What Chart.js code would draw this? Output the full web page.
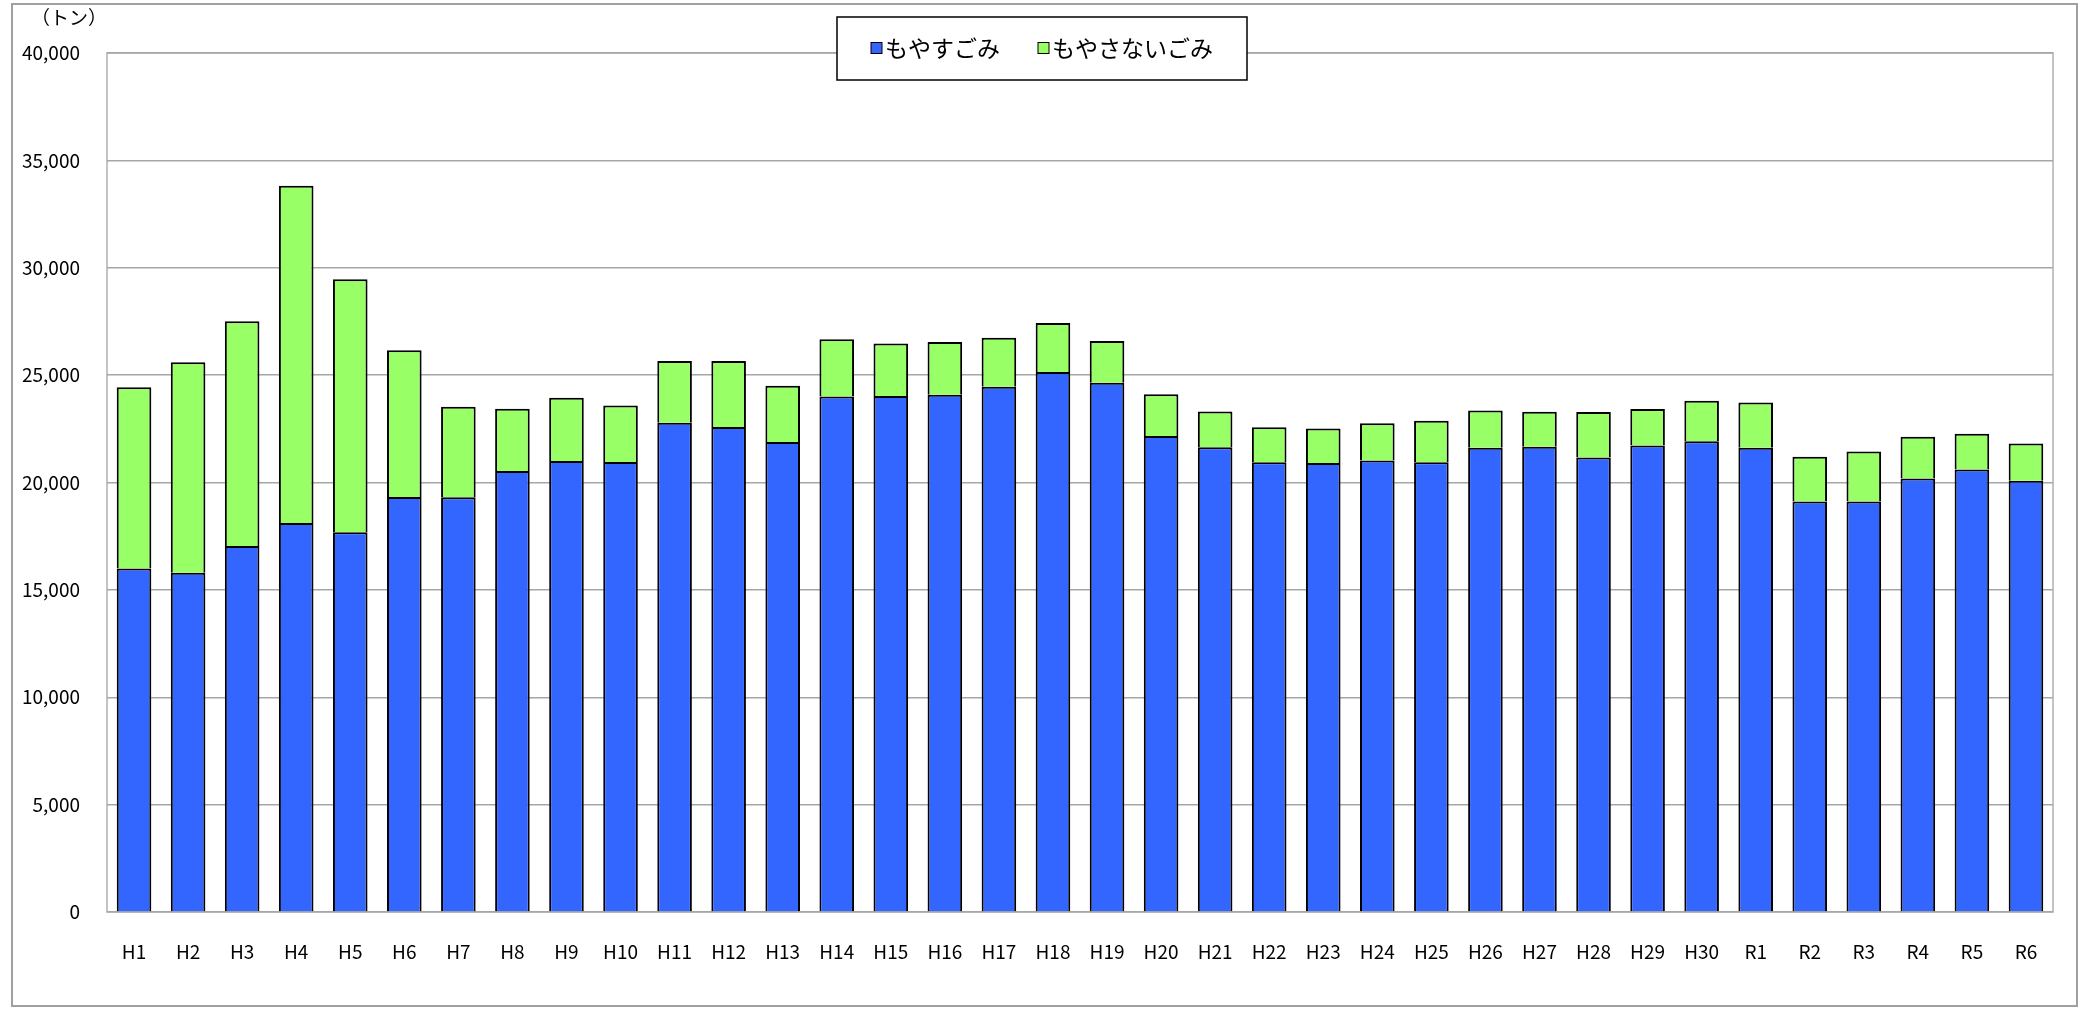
<!DOCTYPE html>
<html lang="ja">
<head>
    <meta charset="UTF-8">
    <title>ごみ排出量の推移</title>
    <script src="https://cdn.jsdelivr.net/npm/chart.js"></script>
    <style>
        html, body { margin: 0; padding: 0; background: #fff; }
        #wrap { width: 2083px; height: 1009px; }
    </style>
</head>
<body>
    <div id="wrap"><canvas id="gomiChart"></canvas></div>

    <script>
        // 年度
        const categories = [
            'H1', 'H2', 'H3', 'H4', 'H5', 'H6', 'H7', 'H8', 'H9', 'H10',
            'H11', 'H12', 'H13', 'H14', 'H15', 'H16', 'H17', 'H18', 'H19', 'H20',
            'H21', 'H22', 'H23', 'H24', 'H25', 'H26', 'H27', 'H28', 'H29', 'H30',
            'R1', 'R2', 'R3', 'R4', 'R5', 'R6'
        ];
        // もやすごみ (トン)
        const burnable = [
            16000, 15800, 17040, 18110, 17680, 19320, 19310, 20540, 21000, 20950,
            22780, 22580, 21890, 24010, 24030, 24090, 24460, 25150, 24650, 22170,
            21640, 20940, 20910, 21030, 20940, 21620, 21670, 21160, 21720, 21920,
            21620, 19110, 19120, 20190, 20600, 20080
        ];
        // もやさないごみ (トン)
        const nonBurnable = [
            8430, 9800, 10470, 15710, 11780, 6840, 4220, 2900, 2950, 2640,
            2880, 3080, 2620, 2660, 2440, 2450, 2280, 2280, 1940, 1940,
            1670, 1630, 1600, 1730, 1940, 1730, 1630, 2120, 1700, 1890,
            2100, 2090, 2320, 1940, 1670, 1740
        ];
        const seriesNames = ['もやすごみ', 'もやさないごみ'];
        const seriesColors = ['#3366ff', '#99ff66'];
        const unitLabel = '（トン）';
        const yMax = 40000;
        const yStep = 5000;

        const FONT = '"Noto Sans CJK JP", "Noto Sans", sans-serif';

        // 枠・単位・凡例を描く
        const framePlugin = {
            id: 'frame',
            beforeDraw(chart) {
                const { ctx, chartArea: a } = chart;
                ctx.save();
                ctx.fillStyle = '#fff';
                ctx.fillRect(0, 0, chart.width, chart.height);
                ctx.strokeStyle = '#a0a0a0';
                ctx.lineWidth = 2;
                ctx.strokeRect(12, 4, chart.width - 18, chart.height - 7);
                ctx.lineWidth = 1.5;
                ctx.strokeStyle = '#b0b0b0';
                ctx.strokeRect(a.left, a.top, a.width, a.height);
                ctx.restore();
            },
            afterDraw(chart) {
                const ctx = chart.ctx;
                ctx.save();
                // 単位
                ctx.font = '19px ' + FONT;
                ctx.fillStyle = '#000';
                ctx.textBaseline = 'middle';
                ctx.textAlign = 'left';
                ctx.fillText(unitLabel, 31, 18);

                // 凡例
                ctx.font = '23px ' + FONT;
                const box = 11, gapText = 3, gapItem = 38, pad = 34;
                const widths = seriesNames.map(n => box + gapText + ctx.measureText(n).width);
                const inner = widths.reduce((s, w) => s + w, 0) + gapItem * (widths.length - 1);
                const w = inner + pad * 2;
                const left = Math.round(chart.width / 2 - w / 2);
                const top = 17, h = 63;
                ctx.fillStyle = '#fff';
                ctx.fillRect(left, top, w, h);
                ctx.strokeStyle = '#000';
                ctx.lineWidth = 1.5;
                ctx.strokeRect(left, top, w, h);
                let x = left + pad;
                const cy = top + h / 2;
                seriesNames.forEach((name, i) => {
                    ctx.fillStyle = seriesColors[i];
                    ctx.fillRect(x, cy - 6, box, box);
                    ctx.lineWidth = 1;
                    ctx.strokeStyle = '#000';
                    ctx.strokeRect(x, cy - 6, box, box);
                    ctx.fillStyle = '#000';
                    ctx.fillText(name, x + box + gapText, cy);
                    x += widths[i] + gapItem;
                });
                ctx.restore();
            }
        };

        const ctx = document.getElementById('gomiChart').getContext('2d');
        new Chart(ctx, {
            type: 'bar',
            data: {
                labels: categories,
                datasets: [
                    {
                        label: seriesNames[0],
                        data: burnable,
                        backgroundColor: seriesColors[0],
                        borderColor: '#000',
                        borderWidth: 2
                    },
                    {
                        label: seriesNames[1],
                        data: nonBurnable,
                        backgroundColor: seriesColors[1],
                        borderColor: '#000',
                        borderWidth: 2
                    }
                ]
            },
            options: {
                responsive: true,
                maintainAspectRatio: false,
                animation: false,
                layout: { padding: { top: 53, right: 30, left: 0, bottom: 0 } },
                categoryPercentage: 1,
                barPercentage: 0.64,
                plugins: {
                    legend: { display: false },
                    tooltip: { enabled: false }
                },
                scales: {
                    x: {
                        stacked: true,
                        grid: { display: false },
                        border: { display: false },
                        ticks: {
                            color: '#000',
                            padding: 20,
                            maxRotation: 0,
                            autoSkip: false,
                            font: { family: FONT, size: 19 }
                        },
                        afterFit(s) { s.height = 97; }
                    },
                    y: {
                        stacked: true,
                        min: 0,
                        max: yMax,
                        grid: { color: '#a6a6a6', lineWidth: 1.5, drawTicks: false },
                        border: { display: false },
                        ticks: {
                            stepSize: yStep,
                            color: '#000',
                            padding: 27,
                            font: { family: FONT, size: 19 },
                            callback: v => v.toLocaleString('en-US')
                        },
                        afterFit(s) { s.width = 107; }
                    }
                }
            },
            plugins: [framePlugin]
        });
    </script>
</body>
</html>
